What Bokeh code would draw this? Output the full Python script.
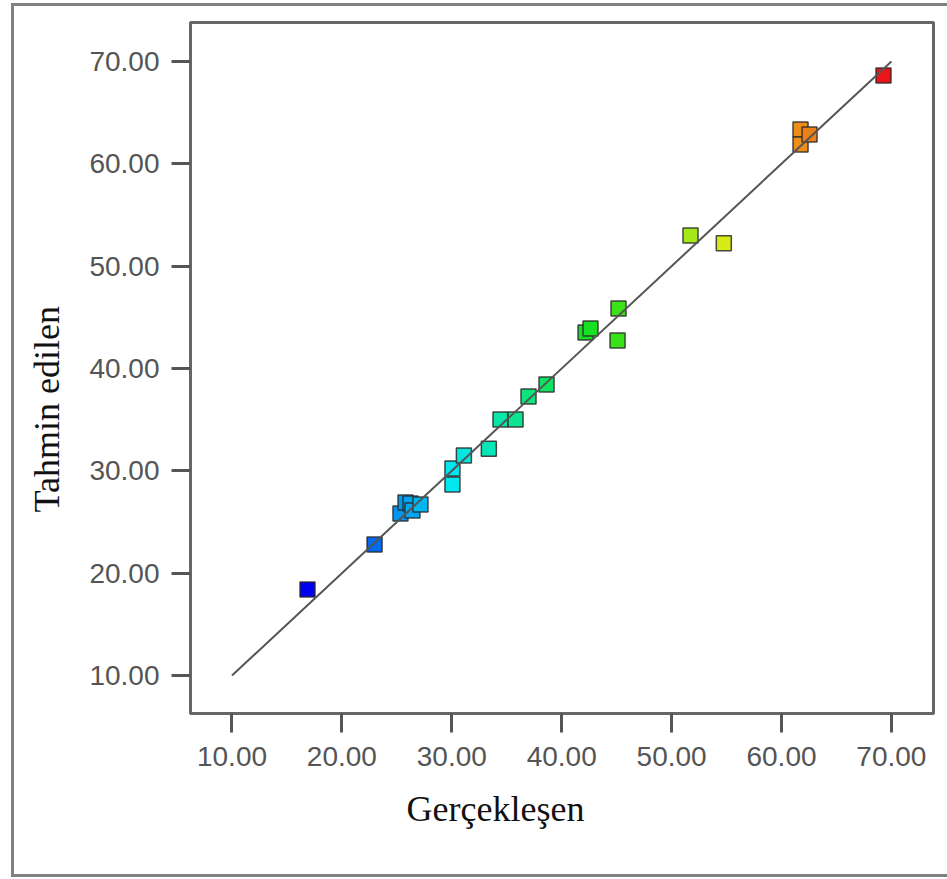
from bokeh.plotting import figure
from bokeh.models import (Range1d, FixedTicker, PrintfTickFormatter, ColumnDataSource,
                          Title, LinearColorMapper)
from bokeh.embed import file_html
from bokeh.resources import INLINE

# ---- data ----
actual = [16.87, 22.97, 25.33, 25.79, 26.24, 26.42, 27.15, 30.06, 30.06, 31.10,
          33.37, 34.43, 35.80, 36.98, 38.62, 42.17, 42.62, 45.08, 45.17, 51.72,
          54.75, 61.73, 61.73, 62.55, 69.28]
predicted = [18.40, 22.80, 25.83, 26.90, 26.81, 26.12, 26.71, 28.67, 30.23, 31.50,
             32.15, 35.02, 35.02, 37.26, 38.44, 43.52, 43.91, 42.74, 45.86, 53.00,
             52.25, 63.36, 61.89, 62.87, 68.63]
ideal_line = [10.0, 70.0]
tick_values = [10, 20, 30, 40, 50, 60, 70]
x_title = "Gerçekleşen"
y_title = "Tahmin edilen"

# ---- colour palette (blue -> cyan -> green -> yellow -> red) ----
anchors = [(0, 0, 240), (0, 232, 240), (24, 224, 24), (236, 236, 24), (236, 20, 24)]
palette = []
n = 256
for i in range(n):
    t = i / (n - 1) * (len(anchors) - 1)
    k = min(int(t), len(anchors) - 2)
    f = t - k
    c = [round(anchors[k][j] + (anchors[k + 1][j] - anchors[k][j]) * f) for j in range(3)]
    palette.append("#%02x%02x%02x" % tuple(c))
mapper = LinearColorMapper(palette=palette, low=min(actual), high=max(actual))

src = ColumnDataSource(dict(actual=actual, predicted=predicted))

p = figure(width=947, height=879, output_backend="svg", toolbar_location=None,
           x_range=Range1d(6.224, 73.83), y_range=Range1d(6.287, 73.81),
           min_border_left=190, min_border_right=14, min_border_top=22, min_border_bottom=166)
# outer grey box drawn behind the (transparent) canvas border area
gl = "linear-gradient(#808080,#808080)"
p.styles = {"background": (f"{gl} 11px 3px / 3px 874px no-repeat, "
                           f"{gl} 11px 3px / 936px 3px no-repeat, "
                           f"{gl} 11px 874px / 936px 3px no-repeat, #ffffff")}

p.background_fill_color = "white"
p.border_fill_alpha = 0
p.outline_line_color = "#666666"
p.outline_line_width = 3
p.xgrid.visible = False
p.ygrid.visible = False

for ax in (p.xaxis[0], p.yaxis[0]):
    ax.ticker = FixedTicker(ticks=tick_values)
    ax.formatter = PrintfTickFormatter(format="%.2f")
    ax.axis_line_color = "#666666"
    ax.axis_line_width = 3
    ax.major_tick_line_color = "#555555"
    ax.major_tick_line_width = 3
    ax.major_tick_out = 19
    ax.major_tick_in = 0
    ax.minor_tick_line_color = None
    ax.major_label_text_font = "Liberation Sans"
    ax.major_label_text_font_size = "28px"
    ax.major_label_text_color = "#555555"
    ax.axis_label = None
p.xaxis[0].major_label_standoff = 14
p.yaxis[0].major_label_standoff = 12

p.scatter("actual", "predicted", source=src, marker="square", size=15,
          fill_color={"field": "actual", "transform": mapper},
          line_color="#2a2a2a", line_width=1.5, line_alpha=0.85)
p.line(ideal_line, ideal_line, line_color="#555555", line_width=2)

# axis titles, placed as titles so they can sit off-centre like the reference
p.add_layout(Title(text=x_title, align="left", offset=216, standoff=36,
                   text_font="Liberation Serif", text_font_size="36px",
                   text_font_style="normal", text_color="#111111"), "below")
p.add_layout(Title(text=y_title, align="left", offset=201, standoff=40,
                   text_font="Liberation Serif", text_font_size="36px",
                   text_font_style="normal", text_color="#111111"), "left")

open("out.html", "w").write(file_html(p, INLINE))
